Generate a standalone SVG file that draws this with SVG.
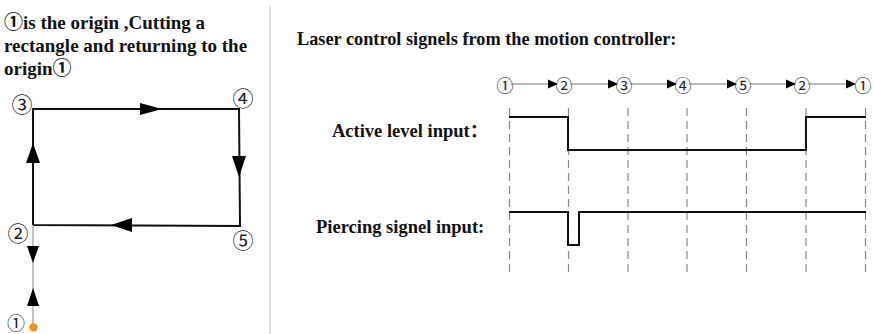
<svg xmlns="http://www.w3.org/2000/svg" width="874" height="334" viewBox="0 0 874 334">
<style>
.title{font-family:"Liberation Serif","Noto Sans CJK SC",serif;font-weight:bold;fill:#111}
.num{font-family:"Noto Sans CJK SC",sans-serif;fill:#222;text-anchor:middle;dominant-baseline:central}
.path{fill:none;stroke:#111;stroke-width:2}
.thin{fill:none;stroke:#888;stroke-width:1}
.sig{fill:none;stroke:#111;stroke-width:2}
.dash{stroke:#888;stroke-width:1.2;stroke-dasharray:8 5}
.ah{fill:#000}
</style>
<rect width="874" height="334" fill="#fff"/>
<line x1="270" y1="6" x2="270" y2="334" stroke="#bbb" stroke-width="1"/>

<g id="left-title">
<text class="title" font-size="19" x="4" y="29">①is the origin ,Cutting a</text>
<text class="title" font-size="19" x="4" y="52">rectangle and returning to the</text>
<text class="title" font-size="19" x="4" y="75">origin①</text>
</g>

<g id="connectors">
<path class="path" d="M33,225 V109 H239 L240,226 L33,225"/>
<line class="thin" x1="33" y1="226" x2="33" y2="324"/>
<polygon class="ah" points="33,143 26,163 40,163"/>
<polygon class="ah" points="162,109 140,103 140,115"/>
<polygon class="ah" points="239,177 232,156 246,156"/>
<polygon class="ah" points="111,225 132,218 132,232"/>
<polygon class="ah" points="33,263 27,246 39,246"/>
<polygon class="ah" points="33,288 27,306 39,306"/>
</g>

<g id="point3"><text class="num" font-size="21" x="22" y="103">③</text></g>
<g id="point4"><text class="num" font-size="21" x="243" y="97">④</text></g>
<g id="point2"><text class="num" font-size="21" x="18" y="232">②</text></g>
<g id="point5"><text class="num" font-size="21" x="243" y="239">⑤</text></g>
<g id="point1"><text class="num" font-size="18" x="16" y="322">①</text><circle cx="33.5" cy="327.5" r="4.2" fill="#f7941d"/></g>

<g id="right-title">
<text class="title" font-size="18.3" x="297" y="45">Laser control signels from the motion controller:</text>
<text class="title" font-size="18.5" x="332" y="137">Active level input：</text>
<text class="title" font-size="18.5" x="316" y="233">Piercing signel input:</text>
</g>

<g id="sequence">
<text class="num" font-size="17" x="505" y="84">①</text>
<text class="num" font-size="17" x="564" y="84">②</text>
<text class="num" font-size="17" x="624" y="84">③</text>
<text class="num" font-size="17" x="683" y="84">④</text>
<text class="num" font-size="17" x="743" y="84">⑤</text>
<text class="num" font-size="17" x="802" y="84">②</text>
<text class="num" font-size="17" x="863" y="84">①</text>
<g stroke="#777" stroke-width="1">
<line x1="511" y1="84" x2="550" y2="84"/>
<line x1="570" y1="84" x2="610" y2="84"/>
<line x1="630" y1="84" x2="669" y2="84"/>
<line x1="689" y1="84" x2="729" y2="84"/>
<line x1="749" y1="84" x2="788" y2="84"/>
<line x1="808" y1="84" x2="848" y2="84"/>
</g>
<polygon class="ah" points="558,84 548,79.5 548,88.5"/>
<polygon class="ah" points="618,84 608,79.5 608,88.5"/>
<polygon class="ah" points="677,84 667,79.5 667,88.5"/>
<polygon class="ah" points="737,84 727,79.5 727,88.5"/>
<polygon class="ah" points="796,84 786,79.5 786,88.5"/>
<polygon class="ah" points="856,84 846,79.5 846,88.5"/>
</g>

<g id="grid">
<line class="dash" x1="509.5" y1="108" x2="509.5" y2="276"/>
<line class="dash" x1="568.5" y1="108" x2="568.5" y2="276"/>
<line class="dash" x1="628" y1="108" x2="628" y2="276"/>
<line class="dash" x1="687" y1="108" x2="687" y2="276"/>
<line class="dash" x1="746.5" y1="108" x2="746.5" y2="276"/>
<line class="dash" x1="806" y1="108" x2="806" y2="276"/>
<line class="dash" x1="865.5" y1="108" x2="865.5" y2="276"/>
</g>

<g id="signals">
<path class="sig" d="M509,117 H568 V150 H806 V117 H866"/>
<path class="sig" d="M509,212 H568 V245 H579 V212 H866"/>
</g>
</svg>
